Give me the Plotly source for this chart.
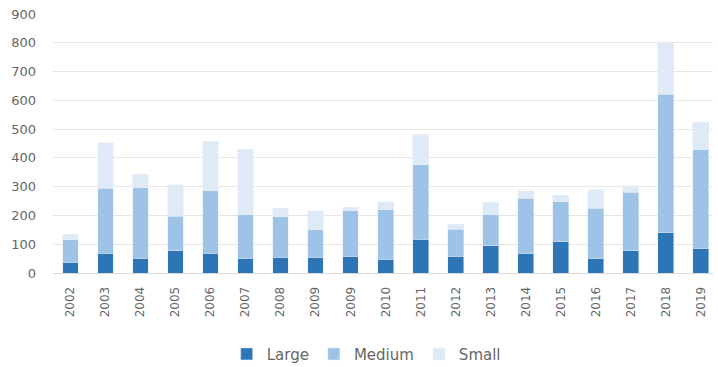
import plotly.graph_objects as go

years = ["2002", "2003", "2004", "2005", "2006", "2007", "2008", "2009", "2009",
         "2010", "2011", "2012", "2013", "2014", "2015", "2016", "2017", "2018", "2019"]
large = [37, 68, 51, 77, 68, 51, 55, 55, 59, 48, 117, 59, 95, 68, 109, 51, 78, 140, 86]
medium = [78, 227, 246, 121, 218, 151, 141, 95, 158, 171, 259, 93, 107, 192, 139, 174, 203, 482, 342]
small = [20, 158, 47, 108, 171, 228, 29, 67, 11, 29, 104, 18, 43, 26, 23, 64, 23, 177, 96]
y_ticks = [0, 100, 200, 300, 400, 500, 600, 700, 800, 900]

idx = list(range(len(years)))
font = "'DejaVu Sans', sans-serif"
txt = "#666666"

fig = go.Figure()
fig.add_trace(go.Bar(x=idx, y=large, name="Large", marker_color="#2E75B6"))
fig.add_trace(go.Bar(x=idx, y=medium, name="Medium", marker_color="#9DC3E6"))
fig.add_trace(go.Bar(x=idx, y=small, name="Small", marker_color="#DEEBF7"))

fig.update_layout(
    barmode="stack",
    bargap=0.55,
    width=718, height=367,
    margin=dict(l=53, r=5, t=14, b=94),
    paper_bgcolor="white", plot_bgcolor="white",
    font=dict(family=font, size=13, color=txt),
    showlegend=True,
    legend=dict(orientation="h", xref="container", yref="container",
                x=0.51, xanchor="center", y=0.035, yanchor="middle",
                font=dict(size=15, color=txt), traceorder="normal", itemwidth=30),
)
fig.update_xaxes(
    tickmode="array", tickvals=idx, ticktext=years, tickangle=-90,
    range=[-0.5, 18.35], showgrid=False, showline=True, linecolor="#D9D9D9",
    ticks="", ticklabelstandoff=8, automargin=False, tickfont=dict(size=12, color=txt),
)
fig.update_yaxes(
    range=[0, 900], tickvals=y_ticks, showgrid=True, gridcolor="#E6E6E6",
    zeroline=False, ticks="", ticklabelstandoff=16, automargin=False,
    tickfont=dict(size=13, color=txt),
)
fig.write_html("out.html")
